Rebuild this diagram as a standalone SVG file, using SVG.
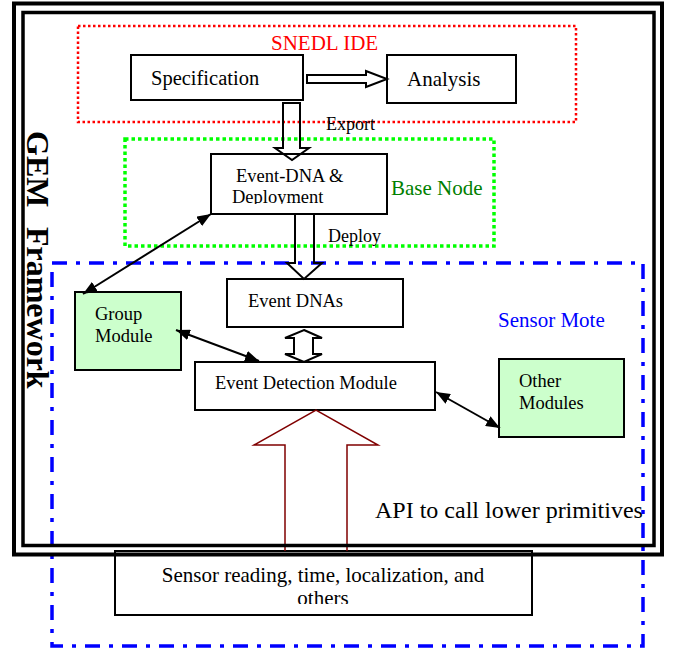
<svg xmlns="http://www.w3.org/2000/svg" width="675" height="652" viewBox="0 0 675 652">
<style>
.t{font-family:"Liberation Serif","Times New Roman",serif;fill:#000}
.box{fill:#fff;stroke:#000;stroke-width:2}
.grn{fill:#ccffcc;stroke:#000;stroke-width:2}
.hol{fill:none;stroke:#000;stroke-width:2;stroke-linejoin:miter}
.con{fill:none;stroke:#000;stroke-width:2;marker-start:url(#ah);marker-end:url(#ah)}
</style>
<defs>
<marker id="ah" markerUnits="userSpaceOnUse" markerWidth="14" markerHeight="11" refX="14" refY="5.5" orient="auto-start-reverse">
<path d="M0,0 L14,5.5 L0,11 Z" fill="#000"/>
</marker>
<clipPath id="c1"><rect x="212" y="155" width="174" height="49"/></clipPath>
<clipPath id="c2"><rect x="116" y="552" width="415" height="52"/></clipPath>
</defs>

<g id="regions">
<rect id="snedl-ide" x="78" y="26" width="498" height="96" fill="none" stroke="#ff0000" stroke-width="2.5" stroke-dasharray="2.5 2.5"/>
<text class="t" x="271" y="50" font-size="21" style="fill:#ff0000">SNEDL IDE</text>
<rect id="base-node" x="125" y="139" width="369" height="107" fill="none" stroke="#00ff00" stroke-width="3.5" stroke-dasharray="3.5 3"/>
<text class="t" x="391" y="195" font-size="21" style="fill:#008000">Base Node</text>
<rect id="sensor-mote" x="52" y="263" width="591" height="383" fill="none" stroke="#0000ff" stroke-width="3.5" stroke-dasharray="15 9 4 9"/>
<text class="t" x="498" y="327" font-size="21" style="fill:#0000ff">Sensor Mote</text>
</g>

<g id="specification">
<rect class="box" x="131" y="55" width="172" height="45"/>
<text class="t" x="151" y="85" font-size="20.5">Specification</text>
</g>
<g id="analysis">
<rect class="box" x="387" y="55" width="129" height="48"/>
<text class="t" x="407" y="86" font-size="21">Analysis</text>
</g>
<g id="event-dna-deployment">
<rect class="box" x="211" y="154" width="176" height="60"/>
<g clip-path="url(#c1)">
<text class="t" x="236" y="182" font-size="18.5">Event-DNA &amp;</text>
<text class="t" x="232" y="203" font-size="18.5">Deployment</text>
</g>
</g>
<g id="event-dnas">
<rect class="box" x="227" y="279" width="176" height="48"/>
<text class="t" x="248" y="307" font-size="18.5">Event DNAs</text>
</g>
<g id="group-module">
<rect class="grn" x="75" y="292" width="106" height="78"/>
<text class="t" x="95" y="320" font-size="18.5">Group</text>
<text class="t" x="95" y="342" font-size="18.5">Module</text>
</g>
<g id="event-detection-module">
<rect class="box" x="195" y="362" width="240" height="48"/>
<text class="t" x="215" y="389" font-size="18.5">Event Detection Module</text>
</g>
<g id="other-modules">
<rect class="grn" x="499" y="359" width="125" height="78"/>
<text class="t" x="519" y="387" font-size="18.5">Other</text>
<text class="t" x="519" y="409" font-size="18.5">Modules</text>
</g>
<g id="sensor-reading">
<rect class="box" x="115" y="551" width="417" height="64"/>
<g clip-path="url(#c2)">
<text class="t" x="323" y="582" font-size="21" text-anchor="middle">Sensor reading, time, localization, and</text>
<text class="t" x="323" y="605" font-size="21" text-anchor="middle">others</text>
</g>
</g>

<g id="connectors">
<path class="hol" d="M307,75 L366,75 L366,71 L387,79 L366,87 L366,83 L307,83 Z"/>
<path class="hol" d="M283,103 L300,103 L300,148 L309,148 L292,160 L275,148 L283,148 Z"/>
<text class="t" x="326" y="130" font-size="18">Export</text>
<path class="hol" d="M295,215 L295,263 L287,263 L304,279 L322,263 L314,263 L314,215"/>
<text class="t" x="328" y="242" font-size="18">Deploy</text>
<path class="hol" d="M304,330 L322,338 L313,338 L313,354 L322,354 L304,362 L285,354 L294,354 L294,338 L285,338 Z"/>
<path fill="none" stroke="#800000" stroke-width="1.5" d="M285,551 L285,445 L254,445 L316,410 L378,445 L347,445 L347,551"/>
<line class="con" x1="211" y1="214" x2="83" y2="294"/>
<line class="con" x1="176" y1="330" x2="259" y2="361"/>
<line class="con" x1="436" y1="392" x2="500" y2="428"/>
</g>

<g id="gem-framework">
<rect x="14" y="3.5" width="648" height="551" fill="none" stroke="#000" stroke-width="4"/>
<rect x="23" y="12.5" width="631" height="533" fill="none" stroke="#000" stroke-width="3.5"/>
<text class="t" transform="translate(27,131) rotate(90)" font-size="32" font-weight="bold">GEM<tspan dx="11.5"> Framework</tspan></text>
<text class="t" x="375" y="518" font-size="24">API to call lower primitives</text>
</g>
</svg>
